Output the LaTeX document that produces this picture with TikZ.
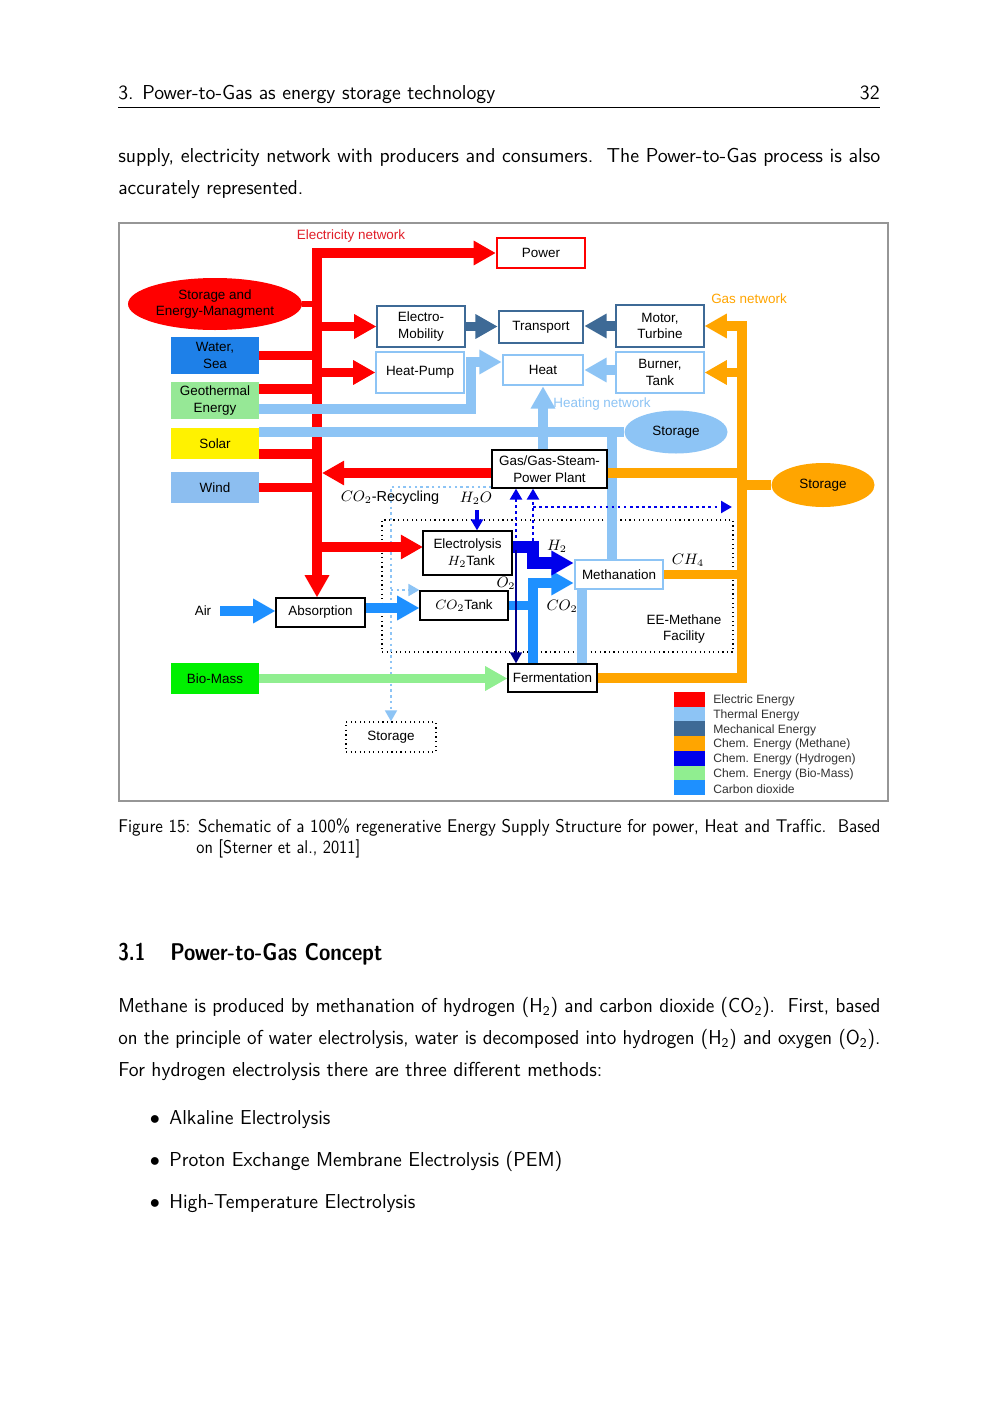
\documentclass[tikz,border=0pt]{standalone}
\usepackage{fontspec}
\usepackage{graphicx}
\usetikzlibrary{arrows.meta,shapes.geometric,calc}
\newfontfamily\arial{Liberation Sans}
\pgfdeclarelayer{bg}
\pgfsetlayers{bg,main}
\definecolor{cRed}{RGB}{255,0,0}
\definecolor{cRedT}{RGB}{225,30,40}
\definecolor{cTherm}{RGB}{141,196,245}
\definecolor{cMech}{RGB}{62,106,150}
\definecolor{cMeth}{RGB}{255,165,0}
\definecolor{cHyd}{RGB}{0,0,235}
\definecolor{cBio}{RGB}{144,238,144}
\definecolor{cCO}{RGB}{30,144,255}
\definecolor{cNavy}{RGB}{0,0,140}
\definecolor{cWater}{RGB}{30,128,232}
\definecolor{cGeo}{RGB}{150,232,150}
\definecolor{cWind}{RGB}{140,190,240}
\definecolor{cBioBox}{RGB}{0,240,0}
\definecolor{cFrame}{RGB}{150,150,150}
\newcommand\fitpx[2]{\setbox0=\hbox{#2}\pgfmathsetmacro\fitsx{#1*0.595/\the\wd0}\scalebox{\fitsx}[1]{\box0}}
\tikzset{
  pgtext/.style={anchor=base west, inner sep=0pt, font=\sffamily\fontsize{12}{14}\selectfont},
  captext/.style={anchor=base west, inner sep=0pt, font=\sffamily\fontsize{10.95}{13}\selectfont},
  sectext/.style={anchor=base west, inner sep=0pt, font=\sffamily\bfseries\fontsize{14.4}{17}\selectfont},
  dg/.style={font=\arial\fontsize{8}{10}\selectfont},
  box/.style={dg, draw, rectangle, fill=white, inner sep=0pt, align=center, line width=0.7pt},
  sz/.style 2 args={minimum width=#1*0.595pt, minimum height=#2*0.595pt},
  srcbox/.style={dg, rectangle, inner sep=0pt, align=center},
  ell/.style={dg, ellipse, inner sep=0pt, align=center},
  lbl/.style={dg, inner sep=0pt, align=center},
  mlbl/.style={inner sep=0pt, align=center, font=\arial\fontsize{8.6}{10}\selectfont},
  flow/.style={line width=5.9pt},
  Big/.tip={Triangle[width=13.8pt,length=13.2pt]},
  Mid/.tip={Triangle[width=7pt,length=6.5pt]},
}
\begin{document}
\begin{tikzpicture}[x=0.595pt,y=-0.595pt]
\begin{pgfonlayer}{bg}
\fill[white] (0,0) rectangle (1000,1414);
\end{pgfonlayer}
\useasboundingbox (0,0) rectangle (1000,1414);

% ---------- page text ----------
\node[pgtext] (hdr) at (118,99) {\fitpx{377}{3. Power-to-Gas as energy storage technology}};
\node[pgtext, anchor=base east] (pno) at (880,99) {32};
\draw[line width=0.4pt] (118,107) -- (880,107);
\node[pgtext] (p1) at (118,162) {\fitpx{762}{supply, electricity network with producers and consumers.\ \ The Power-to-Gas process is also}};
\node[pgtext] (p2) at (118,194) {\fitpx{185}{accurately represented.}};

\node[captext] (c1) at (118,832) {\fitpx{762}{Figure 15: Schematic of a 100\% regenerative Energy Supply Structure for power, Heat and Traffic.\ \ Based}};
\node[captext] (c2) at (196,853) {\fitpx{164}{on [Sterner et al., 2011]}};

\node[sectext] (s1) at (118,960) {\fitpx{27}{3.1}};
\node[sectext] (s2) at (170,960) {\fitpx{212}{Power-to-Gas Concept}};

\node[pgtext] (q1) at (118,1012) {\fitpx{762}{Methane is produced by methanation of hydrogen (H\textsubscript{2}) and carbon dioxide (CO\textsubscript{2}).\ \ First, based}};
\node[pgtext] (q2) at (118,1044) {\fitpx{762}{on the principle of water electrolysis, water is decomposed into hydrogen (H\textsubscript{2}) and oxygen (O\textsubscript{2}).}};
\node[pgtext] (q3) at (118,1076) {\fitpx{484}{For hydrogen electrolysis there are three different methods:}};

\node[pgtext, anchor=base] (bu1) at (155,1124) {$\bullet$};
\node[pgtext] (bt1) at (169,1124) {\fitpx{161}{Alkaline Electrolysis}};
\node[pgtext, anchor=base] (bu2) at (155,1166) {$\bullet$};
\node[pgtext] (bt2) at (169,1166) {\fitpx{393}{Proton Exchange Membrane Electrolysis (PEM)}};
\node[pgtext, anchor=base] (bu3) at (155,1208) {$\bullet$};
\node[pgtext] (bt3) at (169,1208) {\fitpx{246}{High-Temperature Electrolysis}};

% ---------- figure frame ----------
\draw[cFrame, line width=0.9pt] (119,223) rectangle (888,801);

% ---------- diagram nodes ----------
\node[box, sz={88}{30}, draw=cRed, line width=1.4pt] (power) at (541,253) {Power};
\node[ell, sz={174}{52}, fill=cRed] (sem) at (215,304) {Storage and\\Energy-Managment};
\node[srcbox, sz={88}{37}, fill=cWater] (water) at (215,355.5) {Water,\\Sea};
\node[srcbox, sz={88}{37}, fill=cGeo] (geo) at (215,400.5) {Geothermal\\Energy};
\node[srcbox, sz={88}{31}, fill=yellow] (solar) at (215,443.5) {Solar};
\node[srcbox, sz={88}{31}, fill=cWind] (wind) at (215,487.5) {Wind};
\node[box, sz={88}{41}, draw=cMech] (emob) at (421,326.5) {Electro-\\Mobility};
\node[box, sz={88}{41}, draw=cTherm] (hpump) at (420,372.5) {Heat-Pump};
\node[box, sz={84}{32}, draw=cMech, line width=1.6pt] (transport) at (541,327) {Transport};
\node[box, sz={80}{30}, draw=cTherm, line width=1.6pt] (heat) at (543,370) {Heat};
\node[box, sz={88}{42}, draw=cMech] (motor) at (660,326) {Motor,\\Turbine};
\node[box, sz={88}{41}, draw=cTherm] (burner) at (660,372.5) {Burner,\\Tank};
\node[ell, sz={103}{43}, fill=cTherm] (lbstore) at (676,432) {Storage};
\node[box, sz={115}{38}] (plant) at (549.5,469) {Gas/Gas-Steam-\\Power Plant};
\node[ell, sz={103}{44}, fill=cMeth] (ostore) at (823,485) {Storage};
\node[box, sz={89}{44}] (elys) at (467.5,553) {Electrolysis\\\ \ $H_2$Tank};
\node[box, sz={88}{29}, draw=cTherm, line width=1.6pt] (meth) at (619,574.5) {Methanation};
\node[box, sz={88}{29}] (co2tank) at (464,605.5) {$CO_2$Tank};
\node[box, sz={89}{29}] (absorb) at (320.5,612.5) {Absorption};
\node[srcbox, sz={88}{31}, fill=cBioBox] (biomass) at (215,678.5) {Bio-Mass};
\node[box, sz={89}{28}] (ferm) at (552.5,678) {Fermentation};
\node[box, sz={90}{30}, dotted, line width=0.8pt] (dstore) at (391,737) {Storage};

\node[lbl, text=cRedT] (enet) at (351,236) {Electricity network};
\node[lbl, text=cMeth] (gasnet) at (749,299) {Gas network};
\node[lbl, text=cTherm] (heatnet) at (602,404) {Heating network};
\node[mlbl] (co2rec) at (390,498) {$CO_2$-Recycling};
\node[mlbl] (h2o) at (476,498) {$H_2O$};
\node[mlbl] (lh2) at (557,546) {$H_2$};
\node[mlbl] (lo2) at (506,583) {$O_2$};
\node[mlbl] (lco2) at (562,606) {$CO_2$};
\node[mlbl] (lch4) at (688,560) {$CH_4$};
\node[lbl] (air) at (203,611) {Air};
\node[lbl] (eem) at (684,629) {EE-Methane\\Facility};

% legend
\foreach \c/\t [count=\i from 0] in {cRed/Electric Energy, cTherm/Thermal Energy, cMech/Mechanical Energy, cMeth/Chem. Energy (Methane), cHyd/Chem. Energy (Hydrogen), cBio/Chem. Energy (Bio-Mass), cCO/Carbon dioxide}{
  \node[fill=\c, sz={31}{14.8}, inner sep=0pt] (sw\i) at (689.5,699.4+14.7*\i) {};
  \node[anchor=west, inner sep=0pt, font=\arial\fontsize{7.2}{8}\selectfont, text=black!80] (lt\i) at (713,700.5+14.7*\i) {\t};
}

% ---------- connectors (background layer) ----------
\begin{pgfonlayer}{bg}
\node[draw, dotted, line width=0.7pt, sz={351}{132}, inner sep=0pt] (facility) at (557.5,586) {};

\coordinate (bt) at (317,253);
\coordinate (geoR) at (259,389);
\coordinate (solR) at (233,454);
\coordinate (busR) at (322,473);
\coordinate (eIn) at (423,547);
\coordinate (g1) at (259,409);
\coordinate (hp) at (471,362);
\coordinate (tv) at (612,432);
\coordinate (tv2) at (582,589);
\coordinate (ob) at (742,326);
\coordinate (hA) at (533,547);
\coordinate (hB) at (533,563);
\coordinate (oT) at (516,550);
\coordinate (dT) at (533,541);
\coordinate (dH) at (533,507);
\coordinate (dE) at (732,507);
\coordinate (airS) at (220,611);
\coordinate (cA) at (365,608);
\coordinate (cV) at (533,583);
\coordinate (rT) at (391,487);
\coordinate (rC) at (391,590);
\coordinate (h2oT) at (477,510);

% recycling (light blue dotted)
\draw[cTherm, line width=1.4pt, dotted, -Mid] (plant.west |- rT) -- (rT) -- (rT |- dstore.north);
\draw[cTherm, line width=1.4pt, dotted, -Mid] (rC) -- (rC -| co2tank.west);

% electricity
\draw[flow, cRed, line join=miter, Big-Big] (absorb.north -| bt) -- (bt) -- (power.west);
\draw[cRed, line width=4pt] (sem.east) -- (sem.east -| bt);
\draw[flow, cRed, -Big] (emob.west -| bt) -- (emob.west);
\draw[flow, cRed, -Big] (hpump.west -| bt) -- (hpump.west);
\draw[flow, cRed] (water.east) -- (water.east -| bt);
\draw[flow, cRed] (geoR) -- (geoR -| bt);
\draw[flow, cRed] (solR) -- (solR -| bt);
\draw[flow, cRed] (wind.east) -- (wind.east -| bt);
\draw[flow, cRed, -Big] (plant.west |- busR) -- (busR);
\draw[flow, cRed, -Big] (eIn -| bt) -- (eIn);

% thermal
\draw[flow, cTherm, line join=miter, -Big] (g1) -- (g1 -| hp) -- (hp) -- (hp -| heat.west);
\draw[flow, cTherm] (solar.east |- lbstore.west) -- (lbstore.west);
\draw[flow, cTherm, -Big] (heat.south |- plant.north) -- (heat.south);
\draw[flow, cTherm, -Big] (burner.west |- heat.east) -- (heat.east);
\draw[flow, cTherm] (tv) -- (tv |- meth.north);
\draw[flow, cTherm] (tv2 |- meth.south) -- (tv2 |- ferm.north);

% mechanical
\draw[flow, cMech, -Big] (emob.east) -- (emob.east -| transport.west);
\draw[flow, cMech, -Big] (motor.west) -- (motor.west -| transport.east);

% methane
\draw[flow, cMeth, line join=miter, -Big] (ferm.east) -- (ferm.east -| ob) -- (ob) -- (motor.east);
\draw[flow, cMeth, -Big] (burner.east -| ob) -- (burner.east);
\draw[flow, cMeth] (plant.east |- busR) -- (busR -| ob);
\draw[flow, cMeth] (ostore.west -| ob) -- (ostore.west);
\draw[flow, cMeth] (meth.east) -- (meth.east -| ob);

% bio-mass
\draw[flow, cBio, -Big] (biomass.east) -- (biomass.east -| ferm.west);

% carbon dioxide
\draw[flow, cCO, -Big] (airS) -- (airS -| absorb.west);
\draw[flow, cCO, -Big] (cA) -- (cA -| co2tank.west);
\draw[flow, cCO, line join=miter, -Big] (cV |- ferm.north) -- (cV) -- (cV -| meth.west);
\draw[flow, cCO] (co2tank.east) -- (co2tank.east -| cV);

% hydrogen
\draw[cHyd, line width=7.5pt, line join=miter, -Big] (elys.east |- hA) -- (hA) -- (hB) -- (hB -| meth.west);
\draw[cHyd, line width=1.8pt, -Mid] (h2oT) -- (h2oT |- elys.north);
\draw[cNavy, line width=1.1pt, -Mid] (oT) -- (oT |- ferm.north);
\draw[cHyd, line width=1.6pt, dotted, -Mid] (oT) -- (oT |- plant.south);
\draw[cHyd, line width=1.6pt, dotted, -Mid] (dT) -- (dT |- plant.south);
\draw[cHyd, line width=1.6pt, dotted, -Mid] (dH) -- (dE);
\end{pgfonlayer}
\end{tikzpicture}
\end{document}
